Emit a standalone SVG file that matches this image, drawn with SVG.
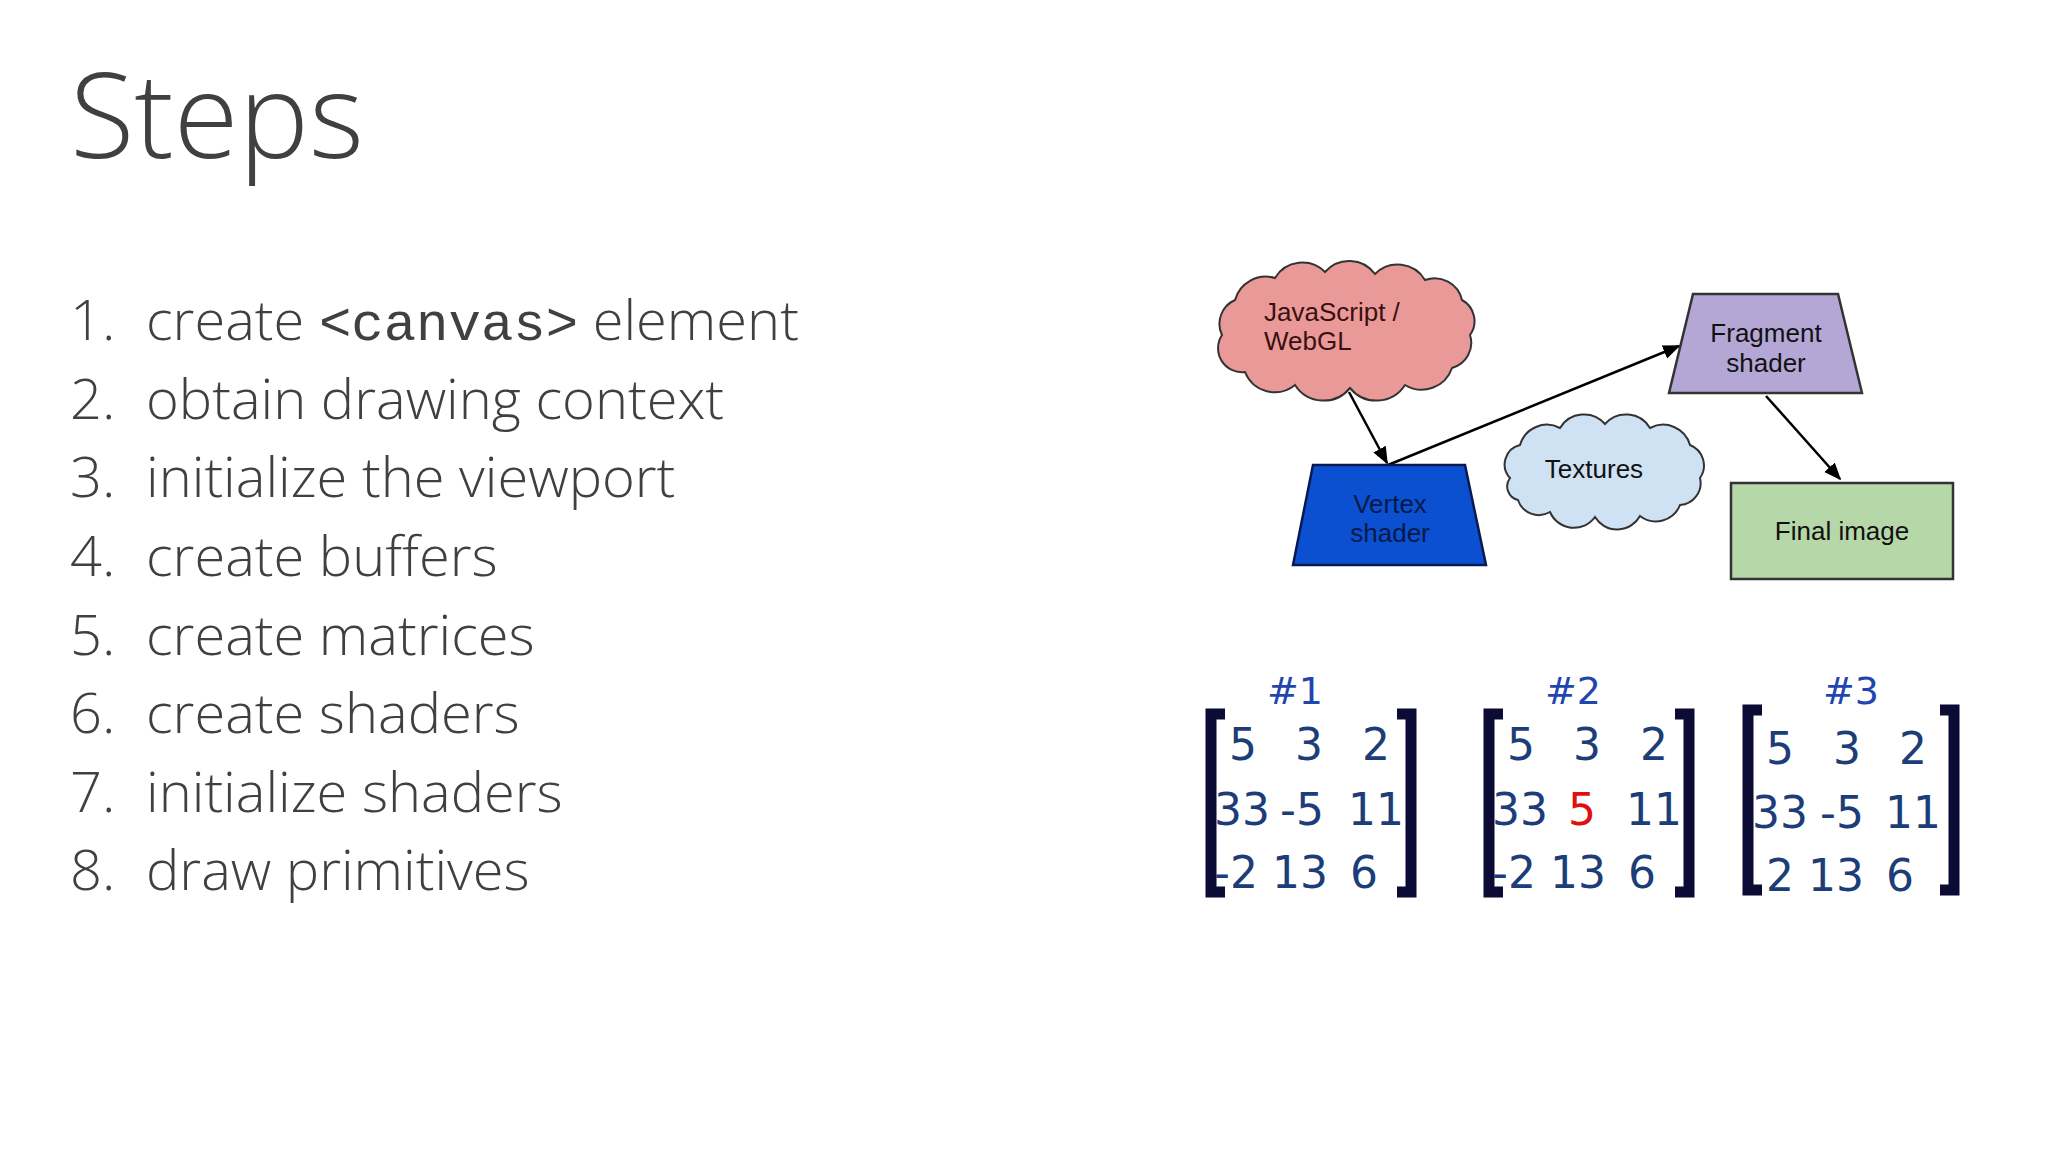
<svg xmlns="http://www.w3.org/2000/svg" width="2048" height="1152" viewBox="0 0 2048 1152">
<defs>
<style>
.t{font-family:"Open Sans","Noto Sans",sans-serif;font-weight:300;fill:#404040}
.li{font-size:56px}
.d{font-family:"Liberation Sans",Arial,sans-serif;font-size:26px;text-anchor:middle}
.m{font-family:"DejaVu Sans",Verdana,sans-serif;font-size:44px;fill:#1c3d78;text-anchor:middle}
.h{font-family:"DejaVu Sans",Verdana,sans-serif;font-size:38px;fill:#1f45b0;text-anchor:middle}
.br{fill:none;stroke:#0b0b35;stroke-width:11}
.c{stroke:#000;stroke-width:2.5;fill:none;marker-end:url(#a)}
</style>
<marker id="a" viewBox="0 0 10 10" refX="9" refY="5" markerWidth="7" markerHeight="7" orient="auto" markerUnits="strokeWidth"><path d="M0,1 L10,5 L0,9 z" fill="#000"/></marker>
</defs>
<rect width="2048" height="1152" fill="#fff"/>
<text class="t" x="70" y="158" font-size="118">Steps</text>
<g class="t li">
<text x="70" y="340">1.</text><text x="146" y="340">create <tspan font-family="Liberation Mono,monospace" font-weight="400" font-size="54">&lt;canvas&gt;</tspan> element</text>
<text x="70" y="419">2.</text><text x="146" y="419">obtain drawing context</text>
<text x="70" y="497">3.</text><text x="146" y="497">initialize the viewport</text>
<text x="70" y="576">4.</text><text x="146" y="576">create buffers</text>
<text x="70" y="655">5.</text><text x="146" y="655">create matrices</text>
<text x="70" y="733">6.</text><text x="146" y="733">create shaders</text>
<text x="70" y="812">7.</text><text x="146" y="812">initialize shaders</text>
<text x="70" y="890">8.</text><text x="146" y="890">draw primitives</text>
</g>
<g id="connectors">
<line class="c" x1="1349" y1="392" x2="1387" y2="463"/>
<line class="c" x1="1388" y1="465" x2="1679" y2="346"/>
<line class="c" x1="1766" y1="396" x2="1840" y2="479"/>
</g>
<g id="js">
<path d="M1222,335 A26,26 0 0 1 1235,300 A32,32 0 0 1 1275,278 A32,32 0 0 1 1325,272 A32,32 0 0 1 1375,274 A32,32 0 0 1 1425,280 A28,28 0 0 1 1462,300 A24,24 0 0 1 1470,335 A26,26 0 0 1 1452,368 A32,32 0 0 1 1405,385 A34,34 0 0 1 1350,388 A34,34 0 0 1 1295,385 A32,32 0 0 1 1245,372 A24,24 0 0 1 1222,335 Z" fill="#ea9999" stroke="#333" stroke-width="2"/>
<text class="d" x="1264" y="321" text-anchor="start" fill="#3a1010" style="text-anchor:start">JavaScript /</text>
<text class="d" x="1264" y="350" fill="#3a1010" style="text-anchor:start">WebGL</text>
</g>
<g id="vertex">
<path d="M1313,465 L1465,465 L1486,565 L1293,565 Z" fill="#0b50d0" stroke="#0a1a50" stroke-width="2.5"/>
<text class="d" x="1390" y="513" fill="#061a4a">Vertex</text>
<text class="d" x="1390" y="542" fill="#061a4a">shader</text>
</g>
<g id="textures">
<path d="M1510,478 A20,20 0 0 1 1520,445 A28,28 0 0 1 1560,428 A28,28 0 0 1 1605,424 A28,28 0 0 1 1650,428 A28,28 0 0 1 1690,445 A22,22 0 0 1 1700,478 A22,22 0 0 1 1680,505 A26,26 0 0 1 1640,516 A26,26 0 0 1 1595,517 A26,26 0 0 1 1550,512 A22,22 0 0 1 1518,500 A14,14 0 0 1 1510,478 Z" fill="#cfe2f3" stroke="#333" stroke-width="2"/>
<text class="d" x="1594" y="478" fill="#111">Textures</text>
</g>
<g id="fragment">
<path d="M1693,294 L1838,294 L1862,393 L1669,393 Z" fill="#b4a7d6" stroke="#333" stroke-width="2.5"/>
<text class="d" x="1766" y="342" fill="#111">Fragment</text>
<text class="d" x="1766" y="372" fill="#111">shader</text>
</g>
<g id="final">
<rect x="1731" y="483" width="222" height="96" fill="#b6d7a8" stroke="#333" stroke-width="2.5"/>
<text class="d" x="1842" y="540" fill="#111">Final image</text>
</g>
<g id="m1">
<text class="h" x="1295" y="704">#1</text>
<path class="br" d="M1225,714 H1211 V892 H1225 M1397,714 H1411 V892 H1397"/>
<text class="m" x="1243" y="760">5</text><text class="m" x="1309" y="760">3</text><text class="m" x="1376" y="760">2</text>
<text class="m" x="1242" y="825">33</text><text class="m" x="1302" y="825">-5</text><text class="m" x="1376" y="825">11</text>
<text class="m" x="1236" y="888">-2</text><text class="m" x="1300" y="888">13</text><text class="m" x="1364" y="888">6</text>
</g>
<g id="m2">
<text class="h" x="1573" y="704">#2</text>
<path class="br" d="M1503,714 H1489 V892 H1503 M1675,714 H1689 V892 H1675"/>
<text class="m" x="1521" y="760">5</text><text class="m" x="1587" y="760">3</text><text class="m" x="1654" y="760">2</text>
<text class="m" x="1520" y="825">33</text><text class="m" x="1582" y="825" fill="#e01010" style="fill:#e01010">5</text><text class="m" x="1654" y="825">11</text>
<text class="m" x="1514" y="888">-2</text><text class="m" x="1578" y="888">13</text><text class="m" x="1642" y="888">6</text>
</g>
<g id="m3">
<text class="h" x="1851" y="704">#3</text>
<path class="br" d="M1762,710 H1748 V890 H1762 M1940,710 H1954 V890 H1940"/>
<text class="m" x="1780" y="764">5</text><text class="m" x="1847" y="764">3</text><text class="m" x="1913" y="764">2</text>
<text class="m" x="1780" y="828">33</text><text class="m" x="1842" y="828">-5</text><text class="m" x="1913" y="828">11</text>
<text class="m" x="1780" y="891">2</text><text class="m" x="1836" y="891">13</text><text class="m" x="1900" y="891">6</text>
</g>
</svg>
